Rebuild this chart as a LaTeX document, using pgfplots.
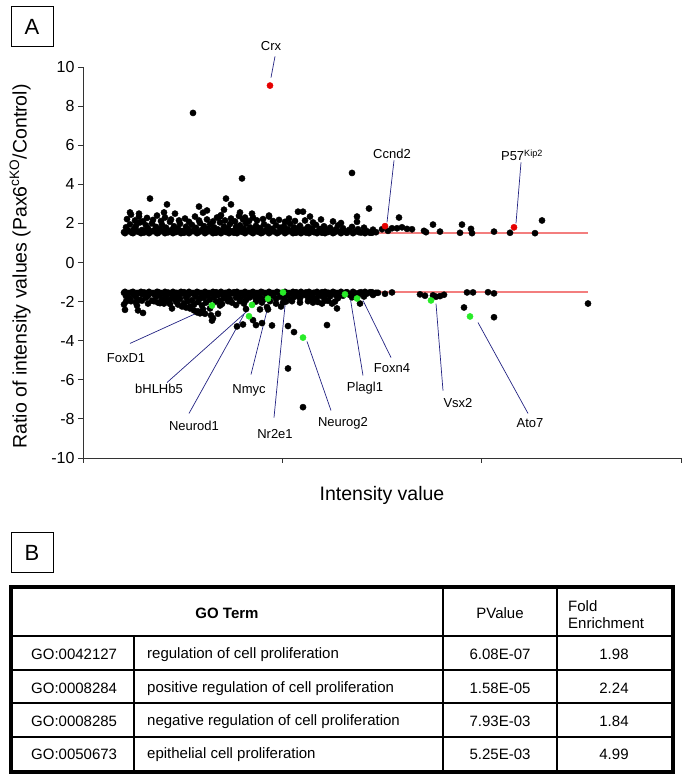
\documentclass[border=0pt]{standalone}
\usepackage{fontspec}
\setmainfont{Liberation Sans}
\usepackage{pgfplots}
\pgfplotsset{compat=1.18}
\definecolor{dotred}{RGB}{230,0,0}
\definecolor{dotgreen}{RGB}{40,235,40}
\definecolor{annot}{RGB}{35,35,130}
\definecolor{thr}{RGB}{235,40,40}
\begin{document}
\begin{tikzpicture}
\path[use as bounding box] (0,0) rectangle (682bp,780bp);
\begin{axis}[
  at={(83bp,322bp)}, anchor=south west, scale only axis,
  width=598bp, height=391bp,
  xmin=83, xmax=681, ymin=-10, ymax=10,
  axis x line*=bottom, axis y line*=left,
  axis line style={-,line width=0.8bp,black!80},
  xtick={83,282.3,481.7,681}, xticklabels={},
  ytick={-10,-8,-6,-4,-2,0,2,4,6,8,10},
  yticklabels={-10,-8,-6,-4,-2,0,2,4,6,8,10},
  tick align=outside, major tick length=5bp,
  tick style={line width=0.8bp,black!80},
  yticklabel style={font=\fontsize{16bp}{18bp}\selectfont},
  xlabel={Intensity value},
  ylabel={Ratio of intensity values (Pax6\textsuperscript{cKO}/Control)},
  label style={font=\fontsize{19.5bp}{22bp}\selectfont},
  xlabel style={at={(axis description cs:0.5,-0.095)},anchor=center},
  ylabel style={at={(axis description cs:-0.105,0.49)},anchor=center},
  clip=false,
]
% upper band core
\addplot[only marks, mark=*, mark size=3.1bp, black] coordinates {
(124,1.55)(126,1.80)(128,1.62)(130,1.95)(132,1.52)(134,1.72)(136,1.88)(138,1.58)(140,2.05)(142,1.66)
(144,1.53)(146,1.90)(148,1.75)(150,1.57)(152,2.00)(154,1.64)(156,1.82)(158,1.51)(160,1.70)(162,1.93)
(164,1.60)(166,1.78)(168,1.54)(170,2.08)(172,1.68)(174,1.85)(176,1.56)(178,1.74)(180,1.98)(182,1.61)
(184,1.52)(186,1.83)(188,1.70)(190,1.58)(192,1.92)(194,1.65)(196,1.77)(198,1.53)(200,2.02)(202,1.67)
(204,1.86)(206,1.55)(208,1.72)(210,1.95)(212,1.60)(214,1.80)(216,1.52)(218,1.69)(220,2.05)(222,1.63)
(224,1.84)(226,1.56)(228,1.75)(230,1.97)(232,1.59)(234,1.52)(236,1.82)(238,1.68)(240,1.90)(242,1.57)
(244,1.73)(246,2.00)(248,1.62)(250,1.80)(252,1.54)(254,1.70)(256,1.88)(258,1.58)(260,1.76)(262,1.52)
(264,1.95)(266,1.65)(268,1.83)(270,1.56)(272,1.72)(274,1.60)(276,1.90)(278,1.53)(280,1.78)(282,1.66)
(284,1.85)(286,1.55)(288,1.70)(290,1.98)(292,1.61)(294,1.80)(296,1.52)(298,1.73)(300,1.88)(302,1.58)
(304,1.68)(306,1.53)(308,1.82)(310,1.63)(312,1.75)(314,1.55)(316,1.92)(318,1.60)(320,1.72)(322,1.52)
(324,1.85)(326,1.66)(328,1.56)(330,1.78)(332,1.62)(334,1.53)(336,1.70)(338,1.90)(340,1.58)
(343,1.75)(346,1.54)(349,1.66)(352,1.82)(355,1.57)(358,1.70)(361,1.53)(364,1.78)(367,1.60)(370,1.52)(373,1.68)(376,1.55)
(125,1.50)(129,1.60)(133,1.50)(137,1.60)(141,1.50)(145,1.60)(149,1.50)(153,1.60)(157,1.50)(161,1.60)
(165,1.50)(169,1.60)(173,1.50)(177,1.60)(181,1.50)(185,1.60)(189,1.50)(193,1.60)(197,1.50)(201,1.60)
(205,1.50)(209,1.60)(213,1.50)(217,1.60)(221,1.50)(225,1.60)(229,1.50)(233,1.60)(237,1.50)(241,1.60)
(245,1.50)(249,1.60)(253,1.50)(257,1.60)(261,1.50)(265,1.60)(269,1.50)(273,1.60)(277,1.50)(281,1.60)
(285,1.50)(289,1.60)(293,1.50)(297,1.60)(301,1.50)(305,1.60)(309,1.50)(313,1.60)(317,1.50)(321,1.60)
(325,1.50)(329,1.60)(333,1.50)(337,1.60)(341,1.50)(347,1.52)(353,1.50)(359,1.55)(365,1.50)(372,1.52)
(127,2.22)(131,2.45)(135,2.15)(139,2.35)(143,2.10)(147,2.28)(153,2.18)(157,2.40)(161,2.12)(165,2.30)
(171,2.20)(175,2.50)(179,2.15)(185,2.25)(189,2.08)(195,2.35)(199,2.15)(203,2.55)(207,2.20)(213,2.10)
(217,2.30)(221,2.42)(225,2.15)(231,2.25)(235,2.10)(239,2.38)(243,2.20)(249,2.12)(253,2.30)(257,2.15)
(263,2.22)(269,2.35)(273,2.12)(279,2.18)(285,2.08)(289,2.25)(295,2.12)(305,2.15)(313,2.05)(321,2.20)
(333,2.10)(341,2.02)(357,2.08)
(150,3.27)(226,3.27)(167,2.97)(231,2.97)(199,2.86)(207,2.66)(130,2.56)(139,2.50)(164,2.56)(240,2.56)
(252,2.50)(298,2.60)(303,2.60)(310,2.35)(357,2.35)(369,2.76)(220,2.35)(269,2.40)(193,7.65)(242,4.30)
(352,4.58)(245,2.30)(224,2.70)
(382,1.70)(388,1.62)(392,1.75)(397,1.75)(402,1.80)(399,2.30)(407,1.72)(412,1.70)(424,1.62)(426,1.55)
(433,1.94)(440,1.58)(460,1.52)(462,1.94)(471,1.72)(472,1.50)(494,1.58)(510,1.52)(535,1.50)(542,2.15)
};
% lower band
\addplot[only marks, mark=*, mark size=3.1bp, black] coordinates {
(124,-1.55)(126,-1.72)(128,-1.60)(130,-1.85)(132,-1.52)(134,-1.66)(136,-1.78)(138,-1.57)(140,-1.92)(142,-1.63)
(144,-1.53)(146,-1.80)(148,-1.70)(150,-1.58)(152,-1.95)(154,-1.62)(156,-1.76)(158,-1.51)(160,-1.68)(162,-1.88)
(164,-1.60)(166,-1.74)(168,-1.54)(170,-1.90)(172,-1.66)(174,-1.82)(176,-1.56)(178,-1.72)(180,-1.86)(182,-1.59)
(184,-1.52)(186,-1.78)(188,-1.68)(190,-1.57)(192,-1.93)(194,-1.63)(196,-1.75)(198,-1.53)(200,-1.85)(202,-1.65)
(204,-1.80)(206,-1.55)(208,-1.70)(210,-1.90)(212,-1.60)(214,-1.77)(216,-1.52)(218,-1.67)(220,-1.95)(222,-1.62)
(224,-1.82)(226,-1.56)(228,-1.73)(230,-1.88)(232,-1.58)(234,-1.52)(236,-1.79)(238,-1.66)(240,-1.86)(242,-1.57)
(244,-1.70)(246,-1.92)(248,-1.61)(250,-1.78)(252,-1.54)(254,-1.68)(256,-1.84)(258,-1.58)(260,-1.74)(262,-1.52)
(264,-1.88)(266,-1.63)(268,-1.80)(270,-1.55)(272,-1.70)(274,-1.60)(276,-1.86)(278,-1.53)(280,-1.75)(282,-1.64)
(284,-1.82)(286,-1.55)(288,-1.68)(290,-1.90)(292,-1.60)(294,-1.77)(296,-1.52)(298,-1.70)(300,-1.84)(302,-1.57)
(304,-1.66)(306,-1.53)(308,-1.78)(310,-1.62)(312,-1.72)(314,-1.55)(316,-1.85)(318,-1.59)(320,-1.70)(322,-1.52)
(324,-1.80)(326,-1.64)(328,-1.55)(330,-1.74)(332,-1.60)(334,-1.53)(336,-1.68)(338,-1.82)(340,-1.57)
(343,-1.70)(346,-1.53)(349,-1.64)(352,-1.78)(355,-1.56)(358,-1.68)(361,-1.52)(364,-1.74)(367,-1.59)(370,-1.52)(373,-1.66)(376,-1.55)
(125,-1.50)(129,-1.56)(133,-1.50)(137,-1.56)(141,-1.50)(145,-1.56)(149,-1.50)(153,-1.56)(157,-1.50)(161,-1.56)
(165,-1.50)(169,-1.56)(173,-1.50)(177,-1.56)(181,-1.50)(185,-1.56)(189,-1.50)(193,-1.56)(197,-1.50)(201,-1.56)
(205,-1.50)(209,-1.56)(213,-1.50)(217,-1.56)(221,-1.50)(225,-1.56)(229,-1.50)(233,-1.56)(237,-1.50)(241,-1.56)
(245,-1.50)(249,-1.56)(253,-1.50)(257,-1.56)(261,-1.50)(265,-1.56)(269,-1.50)(273,-1.56)(277,-1.50)(281,-1.56)
(285,-1.50)(289,-1.56)(293,-1.50)(297,-1.56)(301,-1.50)(305,-1.56)(309,-1.50)(313,-1.56)(317,-1.50)(321,-1.56)
(325,-1.50)(329,-1.56)(333,-1.50)(337,-1.56)(341,-1.50)(347,-1.52)(353,-1.50)(359,-1.55)(365,-1.50)(372,-1.52)
(126,-2.00)(131,-1.98)(136,-2.05)(142,-1.95)(148,-2.10)(154,-1.98)(158,-2.05)(166,-1.96)(170,-2.12)(176,-2.00)
(184,-2.08)(188,-1.97)(194,-2.15)(198,-2.02)(202,-2.20)(206,-2.05)(210,-2.35)(216,-2.00)(222,-2.12)(228,-1.98)
(232,-2.05)(236,-2.18)(240,-1.98)(244,-2.10)(256,-2.00)(262,-2.05)(270,-1.98)(276,-2.10)(286,-2.00)(292,-1.98)
(300,-2.05)(308,-1.98)(318,-2.02)(328,-1.96)(335,-2.00)
(178,-2.15)(182,-2.25)(186,-2.30)(190,-2.35)(194,-2.45)(198,-2.50)(202,-2.55)(205,-2.62)
(124,-2.15)(125,-2.42)(137,-2.20)(138,-2.45)(143,-2.58)(160,-2.08)(172,-2.35)(190,-2.25)(197,-2.55)(203,-2.40)
(211,-2.70)(212,-2.97)(220,-2.20)(218,-2.62)(237,-3.27)(243,-3.17)(246,-2.38)(253,-2.95)(258,-1.85)(260,-2.40)
(267,-2.28)(268,-2.40)(262,-3.10)(272,-3.22)(288,-3.25)(281,-2.25)(283,-2.05)(327,-3.20)(294,-3.56)(312,-1.85)
(313,-2.05)(322,-2.10)(325,-1.95)(337,-2.35)(332,-2.10)(360,-2.10)(288,-5.42)(303,-7.40)(164,-2.10)(200,-2.60)
(213,-2.85)(256,-3.20)
(378,-1.55)(385,-1.60)(392,-1.53)(420,-1.63)(425,-1.70)(433,-1.68)(436,-1.75)(440,-1.72)(444,-1.65)(464,-2.30)
(467,-1.53)(473,-1.53)(488,-1.52)(494,-1.58)(494,-2.80)(588,-2.10)
};
% thresholds
\addplot[thr, line width=2bp, opacity=0.6] coordinates {(125,1.5)(588,1.5)};
\addplot[thr, line width=2bp, opacity=0.6] coordinates {(125,-1.5)(588,-1.5)};
% highlighted genes
\addplot[only marks, mark=*, mark size=3.1bp, dotred] coordinates {(270,9.05)(385,1.86)(514,1.80)};
\addplot[only marks, mark=*, mark size=3.1bp, dotgreen] coordinates {
(212,-2.20)(252,-2.17)(249,-2.75)(268,-1.85)(283,-1.53)(303,-3.84)(345,-1.63)(357,-1.84)(431,-1.94)(470,-2.76)};
% annotations
\begin{scope}[annot, line width=0.7bp]
\draw (axis cs:275,10.54) -- (axis cs:271,9.46);
\draw (axis cs:394,5.22) -- (axis cs:387,2.05);
\draw (axis cs:521,5.12) -- (axis cs:516,2.0);
\draw (axis cs:130,-4.14) -- (axis cs:207,-2.35);
\draw (axis cs:167,-6.14) -- (axis cs:249,-2.40);
\draw (axis cs:189,-7.72) -- (axis cs:244,-2.66);
\draw (axis cs:251,-5.73) -- (axis cs:268,-2.25);
\draw (axis cs:274,-7.93) -- (axis cs:286,-1.69);
\draw (axis cs:331,-7.57) -- (axis cs:307,-4.04);
\draw (axis cs:363,-5.78) -- (axis cs:350,-1.74);
\draw (axis cs:391,-4.86) -- (axis cs:363,-1.94);
\draw (axis cs:443,-6.55) -- (axis cs:436,-2.10);
\draw (axis cs:528,-7.72) -- (axis cs:478,-3.07);
\end{scope}
\begin{scope}[every node/.style={font=\fontsize{13bp}{15bp}\selectfont, inner sep=0pt}]
\node at (axis cs:271,11.05) {Crx};
\node at (axis cs:392,5.58) {Ccnd2};
\node at (axis cs:522,5.47) {P57\textsuperscript{Kip2}};
\node at (axis cs:126,-4.91) {FoxD1};
\node at (axis cs:159,-6.45) {bHLHb5};
\node at (axis cs:194,-8.34) {Neurod1};
\node at (axis cs:249,-6.55) {Nmyc};
\node at (axis cs:275,-8.75) {Nr2e1};
\node at (axis cs:343,-8.24) {Neurog2};
\node at (axis cs:365,-6.45) {Plagl1};
\node at (axis cs:392,-5.42) {Foxn4};
\node at (axis cs:458,-7.21) {Vsx2};
\node at (axis cs:530,-8.24) {Ato7};
\end{scope}
\end{axis}
% panel letters and table
\begin{scope}[x=1bp,y=1bp]
\draw[line width=1bp] (11,733) rectangle (53,773);
\node[font=\fontsize{22bp}{24bp}\selectfont] at (32,753) {A};
\draw[line width=1bp] (11,207) rectangle (53,247);
\node[font=\fontsize{22bp}{24bp}\selectfont] at (32,227) {B};
% table
\draw[line width=1.3bp] (11,144) -- (673,144);
\draw[line width=1.3bp] (11,110) -- (673,110);
\draw[line width=1.3bp] (11,77) -- (673,77);
\draw[line width=1.3bp] (11,43) -- (673,43);
\draw[line width=1.3bp] (134,144) -- (134,8);
\draw[line width=1.3bp] (443,193) -- (443,8);
\draw[line width=1.3bp] (557,193) -- (557,8);
\draw[line width=3.5bp] (11,8) rectangle (673,193);
\begin{scope}[every node/.style={font=\fontsize{15bp}{17bp}\selectfont, inner sep=0pt}, yshift=-1.5bp]
\node[font=\fontsize{15bp}{17bp}\selectfont\bfseries] at (227,168) {GO Term};
\node at (500,168) {PValue};
\node[anchor=west] at (568,175) {Fold};
\node[anchor=west] at (568,158) {Enrichment};
\node[anchor=west] at (31,127) {GO:0042127};
\node[anchor=west] at (31,93) {GO:0008284};
\node[anchor=west] at (31,60) {GO:0008285};
\node[anchor=west] at (31,27) {GO:0050673};
\node[anchor=west] at (147,127) {regulation of cell proliferation};
\node[anchor=west] at (147,93) {positive regulation of cell proliferation};
\node[anchor=west] at (147,60) {negative regulation of cell proliferation};
\node[anchor=west] at (147,27) {epithelial cell proliferation};
\node at (500,127) {6.08E-07};
\node at (500,93) {1.58E-05};
\node at (500,60) {7.93E-03};
\node at (500,27) {5.25E-03};
\node at (614,127) {1.98};
\node at (614,93) {2.24};
\node at (614,60) {1.84};
\node at (614,27) {4.99};
\end{scope}
\end{scope}
\end{tikzpicture}
\end{document}
